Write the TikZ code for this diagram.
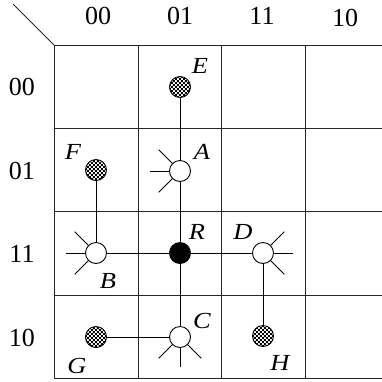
\documentclass[tikz,border=0pt]{standalone}
\usepackage{graphicx}
\usepackage{fontspec}
\setmainfont{Liberation Serif}
\usetikzlibrary{patterns.meta}
\tikzdeclarepattern{name=finecheck, type=uncolored,
  bottom left={(0pt,0pt)}, top right={(4.4pt,4.4pt)}, tile size={(4.4pt,4.4pt)},
  code={\fill (0pt,0pt) rectangle (2.2pt,2.2pt); \fill (2.2pt,2.2pt) rectangle (4.4pt,4.4pt);}}
\newcommand{\widelet}[1]{\scalebox{1.15}[1]{#1}}
\tikzset{
  grid/.style={line width=0.9pt, draw=black!85},
  wire/.style={line width=0.9pt},
  dot/.style={circle, draw, line width=0.9pt, minimum size=21pt, inner sep=0pt},
  whitedot/.style={dot, fill=white},
  blackdot/.style={dot, fill=black},
  checkdot/.style={dot, fill=white, pattern={finecheck}, pattern color=black},
  lbl/.style={font=\fontsize{23pt}{26pt}\selectfont\itshape, inner sep=0pt},
  hdr/.style={font=\fontsize{26pt}{30pt}\selectfont, inner sep=0pt},
}
\begin{document}
\begin{tikzpicture}[x=1pt,y=-1pt]
\useasboundingbox (0,0) rectangle (382,381);
\clip (0,0) rectangle (382,381);
% grid
\foreach \x in {54,138,221,305} \draw[grid] (\x,45) -- (\x,378);
\foreach \y in {45,128,211,295,378} \draw[grid] (54,\y) -- (390,\y);
\draw[grid] (13,4) -- (54,45);
% headers
\node[hdr] (c1) at (98,16) {00};
\node[hdr] (c2) at (180,16) {01};
\node[hdr] (c3) at (262,16) {11};
\node[hdr] (c4) at (345,18) {10};
\node[hdr] (r1) at (22,87) {00};
\node[hdr] (r2) at (22,171) {01};
\node[hdr] (r3) at (22,254) {11};
\node[hdr] (r4) at (22,338) {10};
% dots
\node[checkdot] (E) at (180,87) {};
\node[whitedot] (A) at (180,171) {};
\node[checkdot] (F) at (96,170) {};
\node[whitedot] (B) at (96,253) {};
\node[blackdot] (R) at (180,253) {};
\node[whitedot] (D) at (263,253) {};
\node[whitedot] (C) at (180,337) {};
\node[checkdot] (G) at (96,337) {};
\node[checkdot] (H) at (263,336) {};
% connections
\draw[wire] (E) -- (A);
\draw[wire] (A) -- (R);
\draw[wire] (R) -- (C);
\draw[wire] (F) -- (B);
\draw[wire] (B) -- (R);
\draw[wire] (R) -- (D);
\draw[wire] (D) -- (H);
\draw[wire] (G) -- (C);
% spokes
\draw[wire] (A.180) -- ++(-19.5,0);
\draw[wire] (A.135) -- ++(-13.6,-13.6);
\draw[wire] (A.225) -- ++(-13.6,13.6);
\draw[wire] (B.180) -- ++(-19.5,0);
\draw[wire] (B.135) -- ++(-13.6,-13.6);
\draw[wire] (B.225) -- ++(-13.6,13.6);
\draw[wire] (D.0) -- ++(19.5,0);
\draw[wire] (D.45) -- ++(13.6,-13.6);
\draw[wire] (D.-45) -- ++(13.6,13.6);
\draw[wire] (C.-90) -- ++(0,19.5);
\draw[wire] (C.-135) -- ++(-13.6,13.6);
\draw[wire] (C.-45) -- ++(13.6,13.6);
% labels
\node[lbl] (lE) at (200,66) {\widelet{E}};
\node[lbl] (lA) at (202,152) {\widelet{A}};
\node[lbl] (lF) at (73,152) {\widelet{F}};
\node[lbl] (lR) at (197,232) {\widelet{R}};
\node[lbl] (lD) at (243,232) {\widelet{D}};
\node[lbl] (lB) at (108,281) {\widelet{B}};
\node[lbl] (lC) at (202,321) {\widelet{C}};
\node[lbl] (lG) at (77,366) {\widelet{G}};
\node[lbl] (lH) at (280,363) {\widelet{H}};
\end{tikzpicture}
\end{document}
